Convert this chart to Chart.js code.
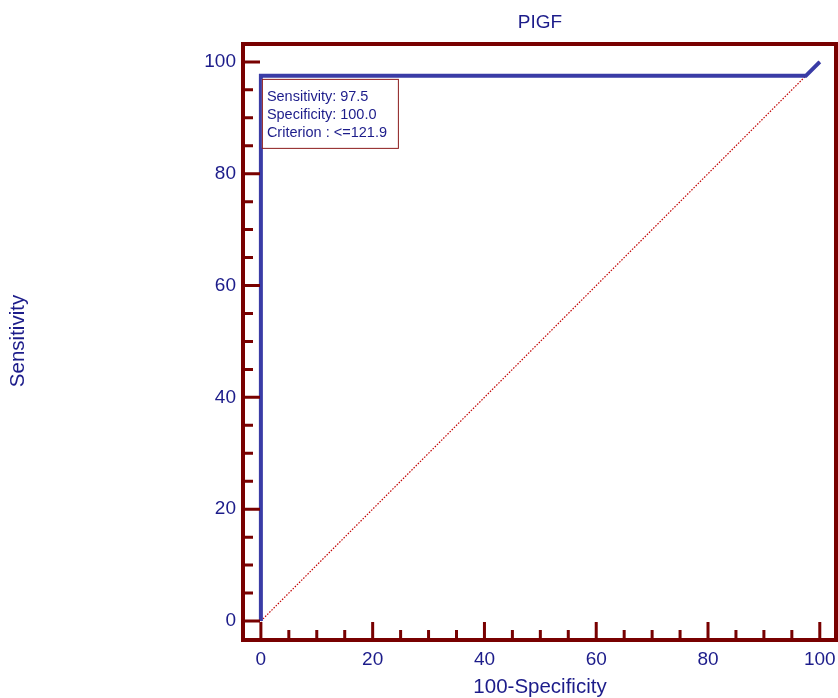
<!DOCTYPE html>
<html>
<head>
<meta charset="utf-8">
<script src="https://cdn.jsdelivr.net/npm/chart.js@4/dist/chart.umd.min.js"></script>
<style>
  body { margin: 0; background: #fff; }
  #wrap { width: 838px; height: 698px; }
</style>
</head>
<body>
<div id="wrap"><canvas id="rocChart" width="838" height="698"></canvas></div>
<script>
// ROC curve data (100-Specificity, Sensitivity)
let fpr = [0, 0, 97.5, 100]
let tpr = [0, 97.5, 97.5, 100]
let refX = [0, 100]
let refY = [0, 100]
let tickVals = [0, 20, 40, 60, 80, 100]
let minorVals = [5, 10, 15, 25, 30, 35, 45, 50, 55, 65, 70, 75, 85, 90, 95]
let infoLines = ['Sensitivity: 97.5', 'Specificity: 100.0', 'Criterion : <=121.9']

let navy = '#1c1c8a'
let frameRed = '#780000'
let font = '"Liberation Sans", Arial, sans-serif'

let framePlugin = {
  id: 'frame',
  afterDatasetsDraw(chart) {
    let ctx = chart.ctx
    let a = chart.chartArea
    let xs = chart.scales.x, ys = chart.scales.y
    ctx.save()
    ctx.strokeStyle = frameRed
    ctx.lineWidth = 4
    ctx.strokeRect(a.left, a.top, a.right - a.left, a.bottom - a.top)
    ctx.lineWidth = 3
    ctx.beginPath()
    tickVals.forEach(v => {
      let px = xs.getPixelForValue(v)
      ctx.moveTo(px, a.bottom); ctx.lineTo(px, a.bottom - 18)
      let py = ys.getPixelForValue(v)
      ctx.moveTo(a.left, py); ctx.lineTo(a.left + 17, py)
    })
    minorVals.forEach(v => {
      let px = xs.getPixelForValue(v)
      ctx.moveTo(px, a.bottom); ctx.lineTo(px, a.bottom - 10)
      let py = ys.getPixelForValue(v)
      ctx.moveTo(a.left, py); ctx.lineTo(a.left + 10, py)
    })
    ctx.stroke()

    // info box
    let bx = xs.getPixelForValue(0) + 1
    let by = ys.getPixelForValue(97.5) + 3
    ctx.fillStyle = '#fff'
    ctx.fillRect(bx, by, 136, 69)
    ctx.strokeStyle = '#8b1a1a'
    ctx.lineWidth = 1
    ctx.strokeRect(bx + 0.5, by + 0.5, 136, 69)
    ctx.fillStyle = navy
    ctx.font = '14.5px ' + font
    ctx.textBaseline = 'middle'
    ctx.textAlign = 'left'
    infoLines.forEach((t, i) => ctx.fillText(t, bx + 5, by + 18 + i * 18))

    // titles
    ctx.textAlign = 'center'
    ctx.font = '19px ' + font
    ctx.fillText('PIGF', 540, 23)
    ctx.font = '20.5px ' + font
    ctx.fillText('100-Specificity', 540, 687)
    ctx.translate(18, 341)
    ctx.rotate(-Math.PI / 2)
    ctx.fillText('Sensitivity', 0, 0)
    ctx.restore()
  }
}

let roc = new Chart(document.getElementById('rocChart').getContext('2d'), {
  type: 'scatter',
  data: {
    datasets: [{
      label: 'PIGF',
      data: fpr.map((x, i) => ({x: x, y: tpr[i]})),
      showLine: true,
      borderColor: '#3a3ca6',
      borderWidth: 4,
      pointRadius: 0
    }, {
      label: 'Reference',
      data: refX.map((x, i) => ({x: x, y: refY[i]})),
      showLine: true,
      borderColor: '#c00000',
      borderWidth: 1.2,
      borderDash: [1.5, 1.5],
      pointRadius: 0
    }]
  },
  plugins: [framePlugin],
  options: {
    responsive: false,
    animation: false,
    layout: { padding: { top: 44, right: 2, left: 0, bottom: 0 } },
    plugins: { legend: { display: false }, tooltip: { enabled: false }, title: { display: false } },
    scales: {
      x: {
        type: 'linear', min: -3.2, max: 102.9,
        afterBuildTicks: s => { s.ticks = tickVals.map(v => ({value: v})) },
        afterFit: s => { s.height = 58; s.paddingLeft = 0; s.paddingRight = 0 },
        grid: { display: false, drawTicks: false },
        border: { display: false },
        ticks: { color: navy, font: { size: 19, family: font }, padding: 8, maxRotation: 0 }
      },
      y: {
        type: 'linear', min: -3.4, max: 103.2,
        afterBuildTicks: s => { s.ticks = tickVals.map(v => ({value: v})) },
        afterFit: s => { s.width = 243; s.paddingTop = 0; s.paddingBottom = 0 },
        grid: { display: false, drawTicks: false },
        border: { display: false },
        ticks: { color: navy, font: { size: 19, family: font }, padding: 7 }
      }
    }
  }
})
</script>
</body>
</html>
